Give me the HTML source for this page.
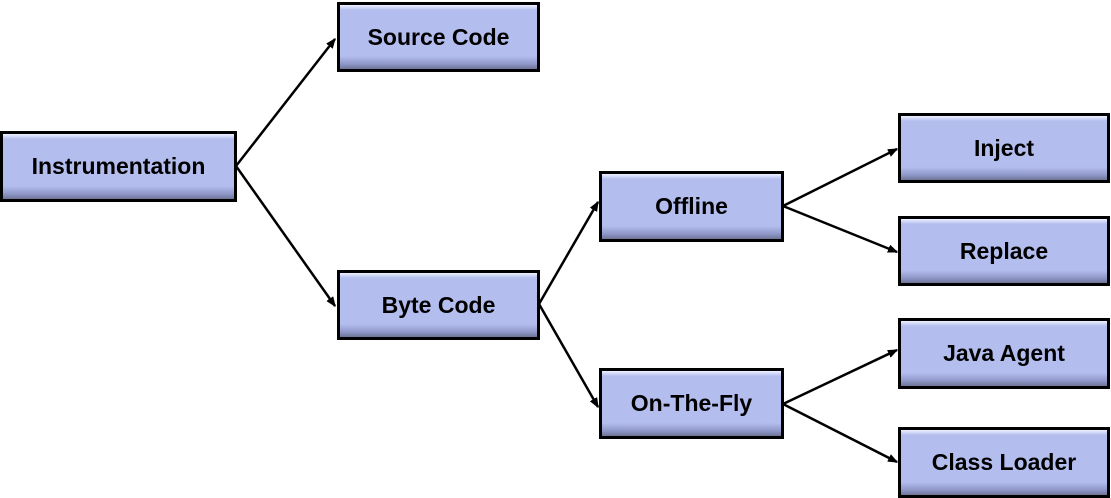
<!DOCTYPE html>
<html><head><style>
body{margin:0;width:1111px;height:498px;background:#fff;overflow:hidden;position:relative;font-family:"Liberation Sans",Arial,sans-serif}
.b{position:absolute;box-sizing:border-box;border:3px solid #000;background:linear-gradient(#eef1ff 0,#b3bdee 8%,#b3bdee 80%,#8f98c8 92%,#6e7598 100%);display:flex;align-items:center;justify-content:center;font-weight:bold;font-size:23px;color:#000}
svg{position:absolute;left:0;top:0}
</style></head><body>
<svg width="1111" height="498">
<defs><marker id="a" markerWidth="10" markerHeight="8" refX="9" refY="4" orient="auto" markerUnits="userSpaceOnUse"><path d="M0,0 L10,4 L0,8 z" fill="#000" transform="scale(1.6) translate(-3.5,-1.5)"/></marker></defs>
<g stroke="#000" stroke-width="2.5" fill="none" marker-end="url(#a)">
<line x1="236" y1="166" x2="335" y2="39"/>
<line x1="236" y1="166" x2="335" y2="306"/>
<line x1="539" y1="304" x2="598" y2="202"/>
<line x1="539" y1="304" x2="598" y2="407"/>
<line x1="783" y1="206" x2="897" y2="149"/>
<line x1="783" y1="206" x2="897" y2="252"/>
<line x1="783" y1="404" x2="897" y2="350"/>
<line x1="783" y1="404" x2="897" y2="462"/>
</g>
</svg>
<div class="b" style="left:0;top:131px;width:237px;height:71px">Instrumentation</div>
<div class="b" style="left:337px;top:2px;width:203px;height:70px">Source Code</div>
<div class="b" style="left:337px;top:270px;width:203px;height:70px">Byte Code</div>
<div class="b" style="left:599px;top:171px;width:185px;height:71px">Offline</div>
<div class="b" style="left:599px;top:368px;width:185px;height:71px">On-The-Fly</div>
<div class="b" style="left:898px;top:113px;width:212px;height:70px">Inject</div>
<div class="b" style="left:898px;top:216px;width:212px;height:70px">Replace</div>
<div class="b" style="left:898px;top:318px;width:212px;height:71px">Java Agent</div>
<div class="b" style="left:898px;top:427px;width:212px;height:71px">Class Loader</div>
</body></html>
